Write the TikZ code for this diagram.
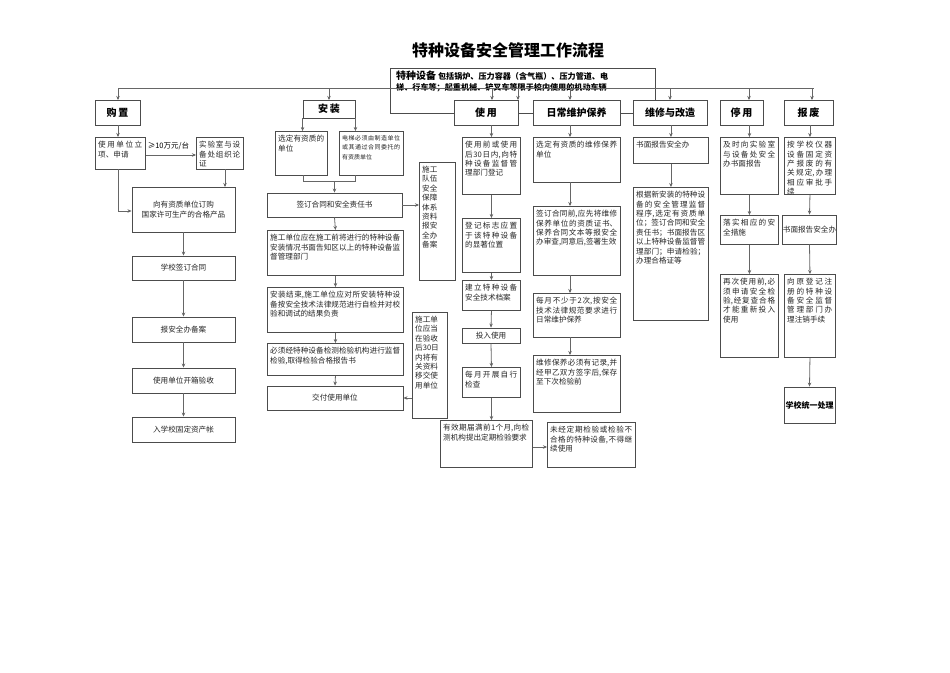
\documentclass[tikz,border=0pt]{standalone}
\usepackage{fontspec}
\setmainfont{Noto Sans CJK SC}
\usetikzlibrary{arrows.meta,calc}
\XeTeXlinebreaklocale "zh"
\XeTeXlinebreakskip=0pt plus 1pt
\tikzset{
 bx/.style={draw=black!70,line width=0.9pt,fill=white,inner sep=0pt},
 tx/.style={inner sep=0pt,align=justify,font=\fontsize{7.6}{9.4}\selectfont,text=black!85},
 ct/.style={font=\fontsize{7.6}{9.4}\selectfont,align=center,text=black!85},
 cat/.style={font=\fontsize{10}{12}\selectfont\bfseries},
 ln/.style={draw=black!60,line width=0.8pt},
 arr/.style={ln,-{Stealth[length=4pt,width=3.5pt,fill=black]}},
}
\newcommand\bx[6]{%
 \pgfmathsetmacro\bxw{#4-#2}\pgfmathsetmacro\bxh{#5-#3}\pgfmathsetmacro\bxt{#4-#2-6}%
 \node[bx,anchor=north west,minimum width=\bxw pt,minimum height=\bxh pt] (#1) at (#2,#3) {};
 \node[tx,anchor=north west,text width=\bxt pt] at ([xshift=3pt,yshift=-4pt]#1.north west) {#6};}
\newcommand\cbx[7]{%
 \pgfmathsetmacro\bxw{#4-#2}\pgfmathsetmacro\bxh{#5-#3}%
 \pgfmathsetmacro\bxx{(#2+#4)/2}\pgfmathsetmacro\bxy{(#3+#5)/2}%
 \node[bx,minimum width=\bxw pt,minimum height=\bxh pt,#7] (#1) at (\bxx,\bxy) {#6};}
\begin{document}
\begin{tikzpicture}[x=1pt,y=-1pt]
\useasboundingbox (0,0) rectangle (950,672);
\node[font=\fontsize{16}{18}\selectfont\bfseries] (title) at (508,50) {特种设备安全管理工作流程};
% header
\node[draw=black!70,line width=0.9pt,minimum width=265pt,minimum height=45pt,anchor=north west,inner sep=0pt] (hd) at (390,68) {};
\node[anchor=north west,inner sep=0pt,align=left,font=\fontsize{8.1}{11}\selectfont\bfseries] (hdt) at (396,71)
 {{\fontsize{10}{10}\selectfont 特种设备} 包括锅炉、压力容器（含气瓶）、压力管道、电\\梯、行车等；起重机械、铲叉车等限于校内使用的机动车辆};
\coordinate (tl) at (118,88);
\coordinate (tr) at (814,88);
\draw[ln] (tl) -- (tr);
% categories
\cbx{gz}{95}{100}{140}{125}{购\,置}{cat}
\cbx{az}{303}{100}{355}{118}{安\,装}{cat}
\cbx{sy}{454}{100}{518}{125}{使\,用}{cat}
\cbx{rc}{533}{100}{620}{125}{日常维护保养}{cat}
\cbx{wx}{633}{100}{707}{125}{维修与改造}{cat}
\cbx{ty}{720}{100}{763}{125}{停\,用}{cat}
\cbx{bf}{784}{100}{833}{125}{报\,废}{cat}
\foreach \x in {118,329,492,518,570,670,749,812}
  \draw[arr] (\x,88) -- (\x,100);
% 购置
\bx{g1}{95}{137}{145}{169}{使用单位立项、申请}
\bx{g2}{196}{137}{243}{169}{实验室与设备处组织论证}
\cbx{g3}{132}{187}{235}{232}{向有资质单位订购\\国家许可生产的合格产品}{ct}
\cbx{g4}{132}{256}{235}{280}{学校签订合同}{ct}
\cbx{g5}{132}{317}{235}{342}{报安全办备案}{ct}
\cbx{g6}{132}{368}{235}{393}{使用单位开箱验收}{ct}
\cbx{g7}{132}{417}{235}{442}{入学校固定资产帐}{ct}
\draw[arr] (118,125) -- (118,137);
\draw[arr] (g1.east |- 0,155) -- (g2.west |- 0,155) node[pos=0.45,above=1pt,font=\fontsize{7.5}{9}\selectfont] {≥10万元/台};
\draw[arr] (225,169) -- (225,187);
\draw[arr] (118,169) -- (118,211) -- (g3.west |- 0,211);
\draw[arr] (g3.south) -- (g4.north);
\draw[arr] (g4.south) -- (g5.north);
\draw[arr] (g5.south) -- (g6.north);
\draw[arr] (g6.south) -- (g7.north);
% 安装
\bx{a1}{275}{131}{327}{175}{选定有资质的单位}
\bx{a2}{339}{131}{403}{175}{{\fontsize{6}{7.4}\selectfont 电梯必须由制造单位或其通过合同委托的有资质单位}}
\draw[arr] (az.south west) -- (az.south west |- a1.north);
\draw[arr] (az.south east) -- (az.south east |- a2.north);
\cbx{a3}{267}{193}{402}{217}{签订合同和安全责任书}{ct}
\bx{a4}{419}{162}{455}{280}{施工\\队伍\\安全\\保障\\体系\\资料\\报安\\全办\\备案}
\bx{a5}{267}{230}{403}{275}{施工单位应在施工前将进行的特种设备安装情况书面告知区以上的特种设备监督管理部门}
\bx{a6}{267}{287}{403}{332}{安装结束,施工单位应对所安装特种设备按安全技术法律规范进行自检并对校验和调试的结果负责}
\bx{a7}{267}{343}{403}{375}{必须经特种设备检测检验机构进行监督检验,取得检验合格报告书}
\cbx{a8}{267}{386}{403}{410}{交付使用单位}{ct}
\bx{a9}{412}{312}{447}{418}{施工单\\位应当\\在验收\\后30日\\内将有\\关资料\\移交使\\用单位}
\draw[ln] (303,175) -- (303,181) -- (355,181) -- (355,175);
\draw[arr] (a3.north |- 0,181) -- (a3.north);
\draw[arr] (a3.east) -- (a3.east -| a4.west);
\draw[arr] (a3.south) -- (a5.north);
\draw[arr] (a5.south) -- (a6.north);
\draw[arr] (a6.south) -- (a7.north);
\draw[arr] (a7.south) -- (a8.north);
\draw[arr] (a8.east -| a9.west) -- (a8.east);
% 使用
\bx{s1}{462}{137}{520}{194}{使用前或使用后30日内,向特种设备监督管理部门登记}
\bx{s2}{462}{218}{520}{272}{登记标志应置于该特种设备的显著位置}
\bx{s3}{462}{280}{520}{310}{建立特种设备安全技术档案}
\cbx{s4}{462}{328}{520}{343}{投入使用}{ct}
\bx{s5}{462}{367}{520}{397}{每月开展自行检查}
\bx{s6}{440}{420}{532}{467}{有效期届满前1个月,向检测机构提出定期检验要求}
\bx{s7}{547}{422}{635}{467}{未经定期检验或检验不合格的特种设备,不得继续使用}
\draw[arr] (s1.north |- sy.south) -- (s1.north);
\draw[arr] (s1.south) -- (s2.north);
\draw[arr] (s2.south) -- (s3.north);
\draw[arr] (s3.south) -- (s4.north);
\draw[arr] (s4.south) -- (s5.north);
\draw[arr] (s5.south) -- (s5.south |- s6.north);
\draw[arr] (s6.east |- 0,447) -- (s7.west |- 0,447);
% 日常
\bx{r1}{533}{137}{620}{182}{选定有资质的维修保养单位}
\bx{r2}{533}{206}{620}{275}{签订合同前,应先将维修保养单位的资质证书、保养合同文本等报安全办审查,同意后,签署生效}
\bx{r3}{533}{293}{620}{337}{每月不少于2次,按安全技术法律规范要求进行日常维护保养}
\bx{r4}{533}{355}{620}{412}{维修保养必须有记录,并经甲乙双方签字后,保存至下次检验前}
\draw[arr] (570,125) -- (570,137);
\draw[arr] (570,182) -- (570,206);
\draw[arr] (570,275) -- (570,293);
\draw[arr] (570,337) -- (570,355);
% 维修
\bx{w1}{633}{137}{708}{163}{书面报告安全办}
\bx{w2}{633}{187}{708}{320}{根据新安装的特种设备的安全管理监督程序,选定有资质单位；签订合同和安全责任书；书面报告区以上特种设备监督管理部门；申请检验；办理合格证等}
\draw[arr] (w1.north |- wx.south) -- (w1.north);
\draw[arr] (w1.south) -- (w2.north);
% 停用
\bx{t1}{720}{137}{778}{194}{及时向实验室与设备处安全办书面报告}
\bx{t2}{720}{215}{778}{244}{落实相应的安全措施}
\bx{t3}{720}{274}{778}{357}{再次使用前,必须申请安全检验,经复查合格才能重新投入使用}
\draw[arr] (t1.north |- ty.south) -- (t1.north);
\draw[arr] (t1.south) -- (t2.north);
\draw[arr] (t2.south) -- (t3.north);
% 报废
\bx{b1}{784}{137}{835}{194}{按学校仪器设备固定资产报废的有关规定,办理相应审批手续}
\cbx{b2}{784}{215}{835}{244}{书面报告安全办}{ct}
\bx{b3}{784}{274}{835}{357}{向原登记注册的特种设备安全监督管理部门办理注销手续}
\cbx{b4}{784}{387}{835}{423}{学校统一处理}{font=\fontsize{8}{10}\selectfont\bfseries}
\draw[arr] (b1.north |- bf.south) -- (b1.north);
\draw[arr] (b1.south) -- (b2.north);
\draw[arr] (b2.south) -- (b3.north);
\draw[arr] (b3.south) -- (b4.north);
\end{tikzpicture}
\end{document}
